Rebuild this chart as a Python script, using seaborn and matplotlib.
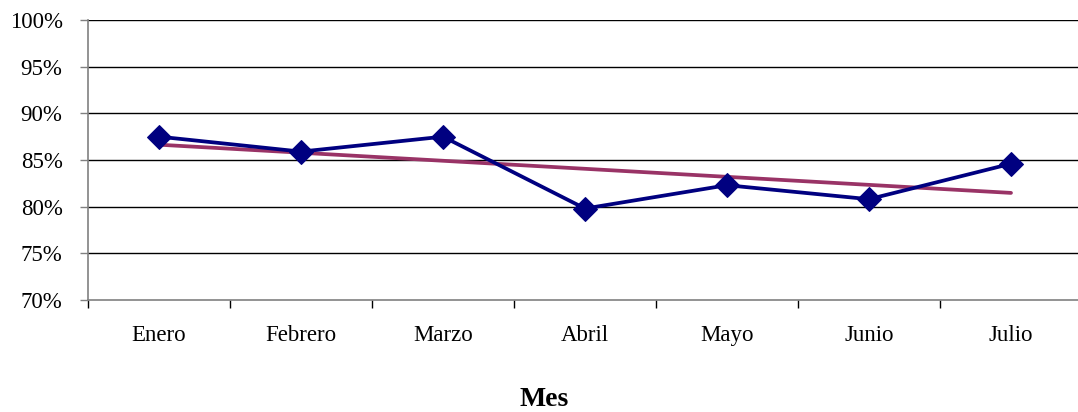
import numpy as np
import pandas as pd
import matplotlib
matplotlib.use("Agg")
import matplotlib.pyplot as plt
import seaborn as sns
from matplotlib.ticker import FixedLocator, PercentFormatter

meses = ["Enero", "Febrero", "Marzo", "Abril", "Mayo", "Junio", "Julio"]
porcentaje = [87.5, 85.9, 87.5, 79.8, 82.3, 80.8, 84.6]
y_ticks = [70, 75, 80, 85, 90, 95, 100]

sns.set_theme(style="white")
plt.rcParams["font.family"] = ["Liberation Serif", "DejaVu Serif"]

df = pd.DataFrame({"mes": meses, "pos": np.arange(len(meses)), "valor": porcentaje})

fig = plt.figure(figsize=(10.78, 4.12), dpi=100)
ax = fig.add_axes([88 / 1078, 1 - 300 / 412, 994 / 1078, 280 / 412])

# horizontal gridlines
for v in y_ticks[1:]:
    ax.axhline(v, color="#000000", lw=1.0, zorder=0)

# linear trend over the monthly values
sns.regplot(data=df, x="pos", y="valor", scatter=False, ci=None, ax=ax,
            color="#993366", line_kws={"lw": 2.7, "zorder": 2})

# monthly series
sns.lineplot(data=df, x="pos", y="valor", ax=ax, color="#000080", lw=2.7,
             marker="D", markersize=12, markeredgecolor="#000080", zorder=3)

ax.set_xlim(-0.5, len(meses) - 0.5)
ax.set_ylim(70, 100)

ax.yaxis.set_major_locator(FixedLocator(y_ticks))
ax.yaxis.set_major_formatter(PercentFormatter(decimals=0))
ax.tick_params(axis="y", which="major", length=5.8, width=1, color="#808080",
               direction="out", left=True, labelsize=16.5, pad=12.5, labelcolor="black")

# boundary ticks between months, labels centred under each month
ax.set_xticks(np.arange(len(meses) + 1) - 0.5)
ax.set_xticklabels([])
ax.set_xticks(np.arange(len(meses)), minor=True)
ax.set_xticklabels(meses, minor=True)
ax.tick_params(axis="x", which="major", length=5.8, width=1, color="black",
               direction="out", bottom=True)
ax.tick_params(axis="x", which="minor", length=0, labelsize=16.5, pad=18,
               labelcolor="black")

for side in ["top", "right"]:
    ax.spines[side].set_visible(False)
ax.spines["left"].set_color("#808080")
ax.spines["bottom"].set_color("#808080")
ax.spines["left"].set_linewidth(1.2)
ax.spines["bottom"].set_linewidth(1.2)

ax.set_ylabel("")
ax.set_xlabel("Mes", fontsize=20, fontweight="bold", color="black")
ax.xaxis.label.set_va("center")
ax.xaxis.set_label_coords((544 - 88) / 994, -(400 - 300) / 280)

fig.savefig("out.png", dpi=100)
